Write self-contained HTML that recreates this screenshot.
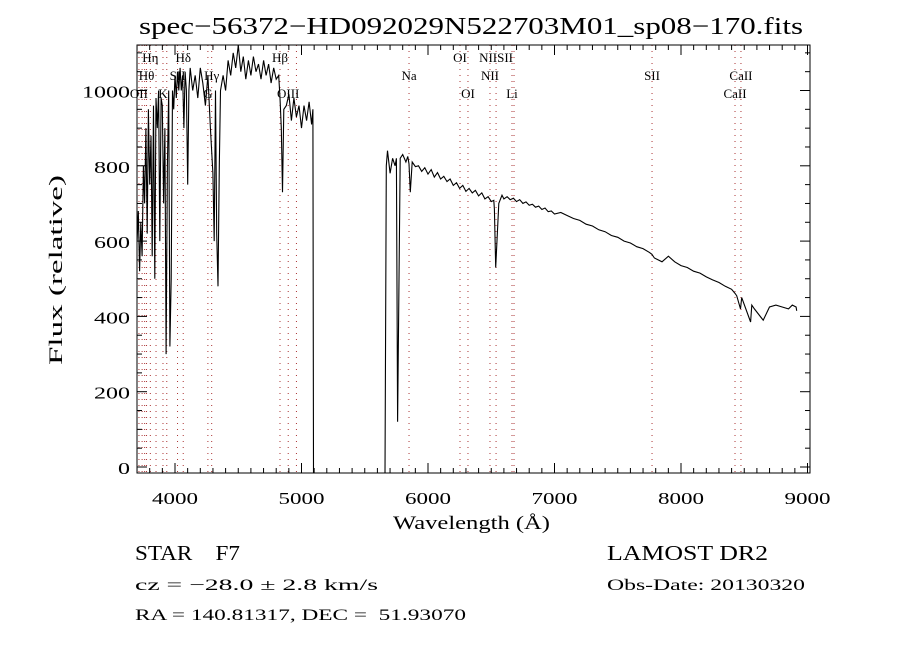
<!DOCTYPE html>
<html><head><meta charset="utf-8"><style>
body{margin:0;background:#fff;}
svg text{font-family:"Liberation Serif",serif;fill:#000;}
</style></head><body>
<svg id="chart" width="900" height="650" xmlns="http://www.w3.org/2000/svg">
<rect width="900" height="650" fill="#fff"/>
<text x="139" y="34" font-size="24" textLength="664" lengthAdjust="spacingAndGlyphs">spec−56372−HD092029N522703M01_sp08−170.fits</text>
<g id="lines"></g>
<g id="linelabels"></g>
<path id="spec" fill="none" stroke="#000" stroke-width="1.1"/>
<rect x="137" y="45" width="673" height="428" fill="none" stroke="#000" stroke-width="1"/>
<g id="axes"></g>
<text x="393" y="529" font-size="19" textLength="157" lengthAdjust="spacingAndGlyphs">Wavelength (Å)</text>
<text x="0" y="0" font-size="19" textLength="190" lengthAdjust="spacingAndGlyphs" transform="translate(62,365) rotate(-90)">Flux (relative)</text>
<text x="135" y="560" font-size="21" xml:space="preserve" textLength="105" lengthAdjust="spacingAndGlyphs">STAR    F7</text>
<text x="135" y="590" font-size="16" textLength="243" lengthAdjust="spacingAndGlyphs">cz = −28.0 ± 2.8 km/s</text>
<text x="135" y="620" font-size="16" xml:space="preserve" textLength="331" lengthAdjust="spacingAndGlyphs">RA = 140.81317, DEC =  51.93070</text>
<text x="607" y="560" font-size="21" textLength="161" lengthAdjust="spacingAndGlyphs">LAMOST DR2</text>
<text x="607" y="590" font-size="16" textLength="198" lengthAdjust="spacingAndGlyphs">Obs-Date: 20130320</text>
</svg>
<script>
const wavelengths=[3700,3710,3720,3730,3740,3750,3760,3770,3780,3790,3800,3810,3820,3830,3840,3850,3860,3870,3880,3890,3900,3910,3920,3930,3940,3950,3960,3970,3980,3990,4000,4010,4020,4030,4040,4050,4060,4070,4080,4090,4100,4110,4120,4140,4160,4180,4200,4220,4240,4260,4280,4300,4310,4320,4330,4340,4350,4360,4380,4400,4420,4440,4460,4480,4500,4520,4540,4560,4580,4600,4620,4640,4660,4680,4700,4720,4740,4760,4780,4800,4820,4830,4840,4850,4860,4880,4900,4920,4940,4960,4980,5000,5020,5040,5060,5080,5090,5095,5095,5660,5660,5670,5680,5700,5720,5740,5750,5760,5780,5800,5825,5840,5850,5860,5875,5900,5925,5950,5975,6000,6025,6050,6075,6100,6125,6150,6175,6200,6225,6250,6275,6300,6325,6350,6375,6400,6425,6450,6475,6500,6520,6525,6535,6560,6585,6600,6625,6650,6675,6700,6725,6750,6775,6800,6825,6850,6875,6900,6925,6950,6975,7000,7050,7100,7150,7200,7250,7300,7350,7400,7450,7500,7550,7600,7650,7700,7750,7770,7790,7850,7900,7950,8000,8050,8100,8150,8200,8250,8300,8350,8400,8425,8440,8470,8480,8550,8560,8580,8650,8700,8750,8800,8850,8880,8910,8915];
const fluxes=[600,680,520,650,560,800,700,900,620,950,750,880,560,960,500,980,900,1000,600,980,960,700,900,300,800,1000,320,500,1000,950,1040,980,1050,1000,1060,1000,1040,900,1050,1000,750,1000,1060,1000,1040,980,1060,1020,960,1040,900,780,600,1000,620,480,800,1000,1040,1000,1080,1040,1100,1060,1120,1050,1090,1030,1080,1040,1090,1050,1070,1030,1080,1040,1070,1020,1060,1030,1040,980,900,730,950,960,990,920,980,930,960,900,960,920,970,910,950,-30,-30,-30,-30,800,840,780,820,800,820,120,820,830,810,825,805,730,810,798,800,785,795,778,790,770,782,765,772,758,765,748,755,740,748,732,740,728,735,720,728,712,718,705,708,685,530,700,722,712,718,710,714,705,710,700,704,695,698,690,693,684,688,678,680,672,676,668,660,655,645,640,630,625,615,610,600,595,585,580,570,565,555,545,560,545,535,530,520,515,505,497,490,480,472,462,455,420,450,385,430,420,390,425,430,425,420,430,425,415,400,-30];
const xTicks=[4000,5000,6000,7000,8000,9000];
const yTicks=[0,200,400,600,800,1000];
const lineWl=[3715,3740,3760,3775,3805,3850,3905,3935,4020,4065,4260,4290,4830,4895,4960,5850,6253,6316,6490,6538,6664,6680,7771,8427,8474];
const lineNames=["OII","","","Hθ","Hη","","K","","SII","Hδ","G","Hγ","Hβ","OIII","","Na","OI","OI","NII","NIISII","Li","","SII","CaII","CaII"];
const lineRows=[2,0,0,1,0,0,2,0,1,0,2,1,0,2,0,1,0,2,1,0,2,0,1,2,1];
const x=w=>175+(w-4000)*0.1265;
const y=v=>467-v*0.3765;
const NS="http://www.w3.org/2000/svg";
let d="";
for(let i=0;i<wavelengths.length;i++){d+=(i?"L":"M")+x(wavelengths[i]).toFixed(1)+","+Math.min(y(fluxes[i]),473).toFixed(1);}
document.getElementById("spec").setAttribute("d",d);
const ax=document.getElementById("axes");
function ln(x1,y1,x2,y2,name){const l=document.createElementNS(NS,"line");l.setAttribute("x1",x1);l.setAttribute("y1",y1);l.setAttribute("x2",x2);l.setAttribute("y2",y2);l.setAttribute("stroke","#000");


ax.appendChild(l);}
function tx(parent,xx,yy,s,size,anchor,name,len){const t=document.createElementNS(NS,"text");t.setAttribute("x",xx);t.setAttribute("y",yy);t.setAttribute("font-size",size);t.setAttribute("text-anchor",anchor);if(len){t.setAttribute("textLength",len);t.setAttribute("lengthAdjust","spacingAndGlyphs");}t.textContent=s;


parent.appendChild(t);}
for(let w=3700;w<=9040;w+=100){const xx=x(w);if(xx<137||xx>810)continue;const maj=w%1000===0;ln(xx,473,xx,473-(maj?10:5),"x-tick");ln(xx,45,xx,45+(maj?10:5),"x-tick-top");}
xTicks.forEach(w=>tx(ax,x(w),504,String(w),17,"middle","x-tick-label",46));
for(let v=0;v<=1100;v+=50){const yy=y(v);const maj=v%200===0;ln(137,yy,137+(maj?10:5),yy,"y-tick");ln(810,yy,810-(maj?10:5),yy,"y-tick-right");}
yTicks.forEach(v=>tx(ax,130,y(v)+7,String(v),17,"end","y-tick-label",String(v).length*12));
const lg=document.getElementById("lines"),lb=document.getElementById("linelabels");
lineWl.forEach((w,i)=>{const l=document.createElementNS(NS,"line");const xx=x(w);l.setAttribute("x1",xx);l.setAttribute("x2",xx);l.setAttribute("y1",45);l.setAttribute("y2",473);l.setAttribute("stroke","#a33");l.setAttribute("stroke-dasharray","1,5");


lg.appendChild(l);
if(lineNames[i])tx(lb,xx,62+lineRows[i]*18,lineNames[i],13,"middle","line-label");});
</script>
</body></html>
